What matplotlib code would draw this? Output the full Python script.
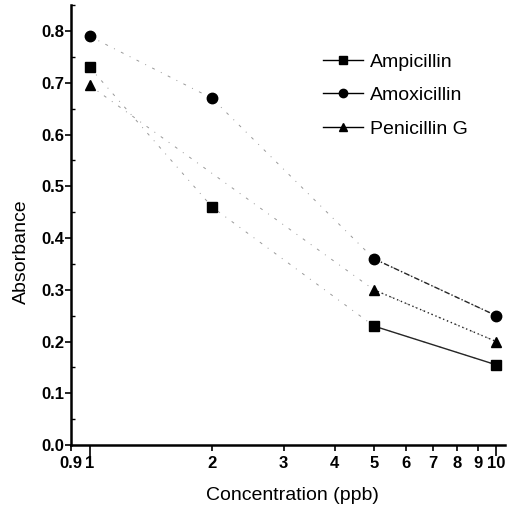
import numpy as np
import matplotlib.pyplot as plt
from matplotlib.ticker import FixedLocator, NullFormatter, MultipleLocator

# absorbance vs. concentration for three beta-lactams
conc_amp = [1, 2, 5, 10]
abs_amp = [0.73, 0.46, 0.23, 0.155]
conc_amox = [1, 2, 5, 10]
abs_amox = [0.79, 0.67, 0.36, 0.25]
conc_pen = [1, 5, 10]
abs_pen = [0.695, 0.30, 0.20]

series = [
    ("Ampicillin", conc_amp, abs_amp, "s", "-"),
    ("Amoxicillin", conc_amox, abs_amox, "o", (0, (4, 1.5, 1, 1.5))),
    ("Penicillin G", conc_pen, abs_pen, "^", (0, (1, 2))),
]

x_ticks = [0.9, 1, 2, 3, 4, 5, 6, 7, 8, 9, 10]
x_ticklabels = ["0.9", "1", "2", "3", "4", "5", "6", "7", "8", "9", "10"]

plt.rcParams['font.family'] = ['Liberation Sans', 'DejaVu Sans']

fig = plt.figure(figsize=(5.08, 5.23), dpi=100)
ax = fig.add_axes([0.140, 0.149, 0.854, 0.841])

for name, x, y, mk, ls in series:
    x = np.asarray(x, float)
    y = np.asarray(y, float)
    # faint dash-dot over the full range
    ax.plot(x, y, color='0.6', lw=0.7, ls=(0, (3, 7, 1, 7)), zorder=1)
    # darker segment at the high end
    hi = x >= 5
    ax.plot(x[hi], y[hi], color='0.15', lw=1.0, ls=ls, zorder=2)
    ax.plot(x, y, ls='none', marker=mk, ms=7.5, color='black', zorder=3)
    # legend proxy
    ax.plot([], [], color='black', lw=1.0, marker=mk, ms=6, label=name)

ax.set_xscale('log')
ax.set_xlim(0.9, 10.5)
ax.set_ylim(0.0, 0.85)

ax.xaxis.set_major_locator(FixedLocator(x_ticks))
ax.xaxis.set_minor_locator(FixedLocator([]))
ax.set_xticks(x_ticks)
ax.set_xticklabels(x_ticklabels)
ax.xaxis.set_minor_formatter(NullFormatter())
ax.tick_params(axis='x', which='major', direction='out', length=4, width=1.2,
               labelsize=12, pad=4)
for t, v in zip(ax.xaxis.get_major_ticks(), x_ticks):
    if v in (1, 10):
        t.tick1line.set_markersize(8)

ax.yaxis.set_major_locator(MultipleLocator(0.1))
ax.yaxis.set_minor_locator(MultipleLocator(0.05))
ax.tick_params(axis='y', which='major', direction='out', length=4, width=1.2,
               labelsize=12, pad=1)
ax.tick_params(axis='y', which='minor', direction='in', length=3, width=1)
for lbl in ax.get_xticklabels() + ax.get_yticklabels():
    lbl.set_fontweight('bold')

for side in ('top', 'right'):
    ax.spines[side].set_visible(False)
for side in ('left', 'bottom'):
    ax.spines[side].set_linewidth(1.8)

ax.set_xlabel("Concentration (ppb)", fontsize=14)
ax.set_ylabel("Absorbance", fontsize=14)
ax.xaxis.set_label_coords(0.51, -0.095)
ax.yaxis.set_label_coords(-0.095, 0.44)

ax.legend(loc='upper left', bbox_to_anchor=(323 / 508, 1 - 53 / 523),
          bbox_transform=fig.transFigure, frameon=False, borderpad=0,
          borderaxespad=0, fontsize=14, handlelength=2.05,
          handletextpad=0.35, labelspacing=0.82)

fig.savefig("out.png", dpi=100)
